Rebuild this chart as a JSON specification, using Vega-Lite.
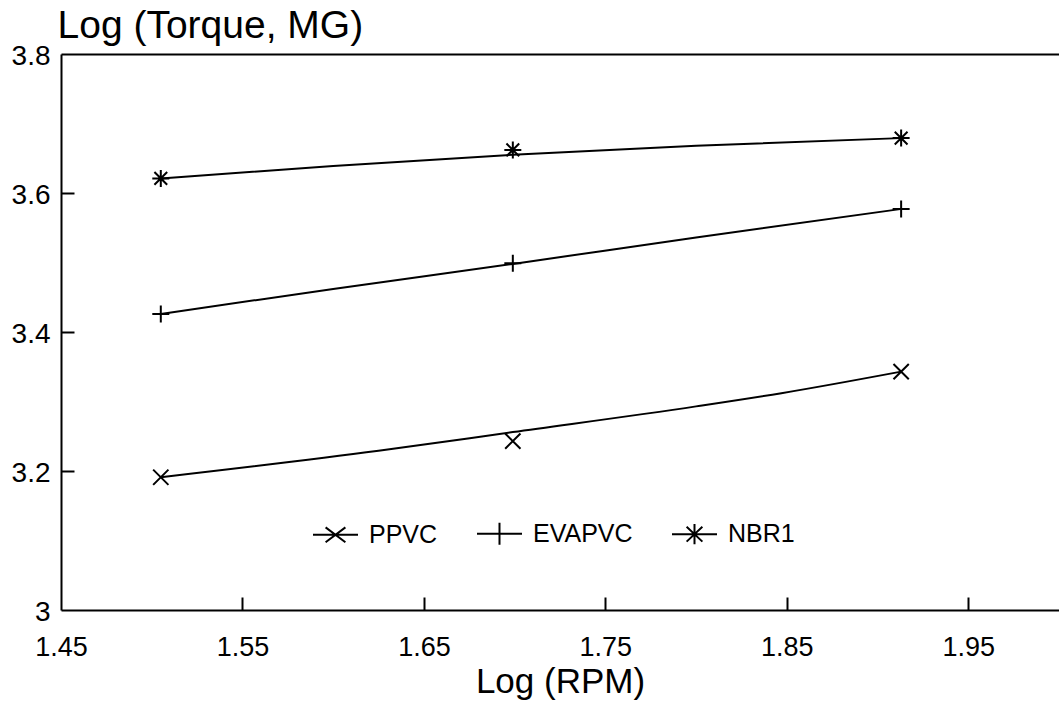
{
  "$schema": "https://vega.github.io/schema/vega-lite/v6.json",
  "width": 998,
  "height": 556,
  "autosize": {"type": "none"},
  "padding": {"left": 61, "top": 54, "right": 0, "bottom": 105},
  "background": "white",
  "config": {
    "font": "Liberation Sans",
    "view": {"stroke": null},
    "axis": {
      "grid": false,
      "domainColor": "black",
      "domainWidth": 2,
      "tickColor": "black",
      "tickWidth": 2,
      "tickSize": 13,
      "labelColor": "black",
      "titleColor": "black",
      "titleFontWeight": "normal"
    }
  },
  "datasets": {
    "pts": [
      {"series": "PPVC", "logrpm": 1.505, "logtorque": 3.191},
      {"series": "PPVC", "logrpm": 1.699, "logtorque": 3.243},
      {"series": "PPVC", "logrpm": 1.913, "logtorque": 3.343},
      {"series": "EVAPVC", "logrpm": 1.505, "logtorque": 3.426},
      {"series": "EVAPVC", "logrpm": 1.699, "logtorque": 3.499},
      {"series": "EVAPVC", "logrpm": 1.913, "logtorque": 3.577},
      {"series": "NBR1", "logrpm": 1.505, "logtorque": 3.621},
      {"series": "NBR1", "logrpm": 1.699, "logtorque": 3.662},
      {"series": "NBR1", "logrpm": 1.913, "logtorque": 3.679}
    ],
    "fit": [
      {"series": "PPVC", "logrpm": 1.505, "logtorque": 3.191},
      {"series": "PPVC", "logrpm": 1.625, "logtorque": 3.229},
      {"series": "PPVC", "logrpm": 1.699, "logtorque": 3.256},
      {"series": "PPVC", "logrpm": 1.8, "logtorque": 3.293},
      {"series": "PPVC", "logrpm": 1.847, "logtorque": 3.312},
      {"series": "PPVC", "logrpm": 1.913, "logtorque": 3.343},
      {"series": "EVAPVC", "logrpm": 1.505, "logtorque": 3.426},
      {"series": "EVAPVC", "logrpm": 1.6, "logtorque": 3.462},
      {"series": "EVAPVC", "logrpm": 1.699, "logtorque": 3.498},
      {"series": "EVAPVC", "logrpm": 1.8, "logtorque": 3.536},
      {"series": "EVAPVC", "logrpm": 1.913, "logtorque": 3.577},
      {"series": "NBR1", "logrpm": 1.505, "logtorque": 3.621},
      {"series": "NBR1", "logrpm": 1.6, "logtorque": 3.639},
      {"series": "NBR1", "logrpm": 1.699, "logtorque": 3.655},
      {"series": "NBR1", "logrpm": 1.8, "logtorque": 3.668},
      {"series": "NBR1", "logrpm": 1.913, "logtorque": 3.679}
    ]
  },
  "resolve": {
    "axis": {"x": "independent", "y": "independent"},
    "scale": {"shape": "independent"}
  },
  "layer": [
    {
      "data": {"name": "fit"},
      "mark": {"type": "line", "interpolate": "monotone", "color": "black", "strokeWidth": 2},
      "encoding": {
        "x": {
          "field": "logrpm", "type": "quantitative",
          "scale": {"domain": [1.45, 2.0], "nice": false, "zero": false},
          "axis": {
            "orient": "bottom",
            "values": [1.45, 1.55, 1.65, 1.75, 1.85, 1.95],
            "format": ".2f",
            "ticks": false,
            "labelFontSize": 27,
            "labelPadding": 24,
            "labelBaseline": "top",
            "labelFlush": false,
            "title": "Log (RPM)",
            "titleFontSize": 35,
            "titleY": 82,
            "titleBaseline": "alphabetic"
          }
        },
        "y": {
          "field": "logtorque", "type": "quantitative",
          "scale": {"domain": [3, 3.8], "nice": false, "zero": false},
          "axis": {
            "values": [3, 3.2, 3.4, 3.6, 3.8],
            "format": "~g",
            "ticks": false,
            "labelFontSize": 28,
            "labelPadding": 11,
            "labelOffset": 2,
            "labelFlush": false,
            "title": "Log (Torque, MG)",
            "titleFontSize": 39,
            "titleAngle": 0,
            "titleAlign": "left",
            "titleBaseline": "alphabetic",
            "titleX": -4,
            "titleY": -17
          }
        },
        "detail": {"field": "series"}
      }
    },
    {
      "data": {"name": "pts"},
      "mark": {"type": "point", "filled": false, "stroke": "black", "strokeWidth": 2, "size": 289, "opacity": 1},
      "encoding": {
        "x": {
          "field": "logrpm", "type": "quantitative",
          "axis": {"orient": "top", "labels": false, "ticks": false, "title": null, "domain": true}
        },
        "y": {"field": "logtorque", "type": "quantitative", "axis": null},
        "shape": {
          "field": "series", "type": "nominal",
          "scale": {
            "domain": ["PPVC", "EVAPVC", "NBR1"],
            "range": [
              "M-0.9,-0.9L0.9,0.9M-0.9,0.9L0.9,-0.9",
              "M-1,0L1,0M0,-1L0,1",
              "M0,-1L0,1M-1,0L1,0M-0.75,-0.75L0.75,0.75M-0.75,0.75L0.75,-0.75"
            ]
          },
          "legend": null
        }
      }
    },
    {
      "data": {"name": "pts"},
      "mark": {"type": "point", "filled": false, "stroke": "black", "strokeWidth": 2, "opacity": 0},
      "encoding": {
        "x": {
          "field": "logrpm", "type": "quantitative",
          "axis": {
            "orient": "top", "offset": -556,
            "values": [1.55, 1.65, 1.75, 1.85, 1.95],
            "labels": false, "domain": false, "ticks": true, "tickSize": 13, "title": null
          }
        },
        "y": {
          "field": "logtorque", "type": "quantitative",
          "axis": {
            "orient": "right", "offset": -998,
            "values": [3.2, 3.4, 3.6],
            "labels": false, "domain": false, "ticks": true, "tickSize": 13, "title": null
          }
        },
        "shape": {
          "field": "series", "type": "nominal",
          "scale": {
            "domain": ["PPVC", "EVAPVC", "NBR1"],
            "range": [
              "M-1,0L1,0M-0.44,-0.33L0.44,0.33M-0.44,0.33L0.44,-0.33",
              "M-1,0L1,0M0,-0.49L0,0.49",
              "M-1,0L1,0M0,-0.45L0,0.45M-0.35,-0.33L0.35,0.33M-0.35,0.33L0.35,-0.33"
            ]
          },
          "legend": {
            "orient": "none",
            "legendX": 251,
            "legendY": 456,
            "direction": "horizontal",
            "title": null,
            "labelFontSize": 25,
            "labelColor": "black",
            "labelOffset": 10,
            "columnPadding": 35,
            "symbolSize": 2025,
            "symbolStrokeWidth": 2,
            "symbolStrokeColor": "black",
            "symbolFillColor": "transparent",
            "symbolOpacity": 1
          }
        }
      }
    }
  ]
}
